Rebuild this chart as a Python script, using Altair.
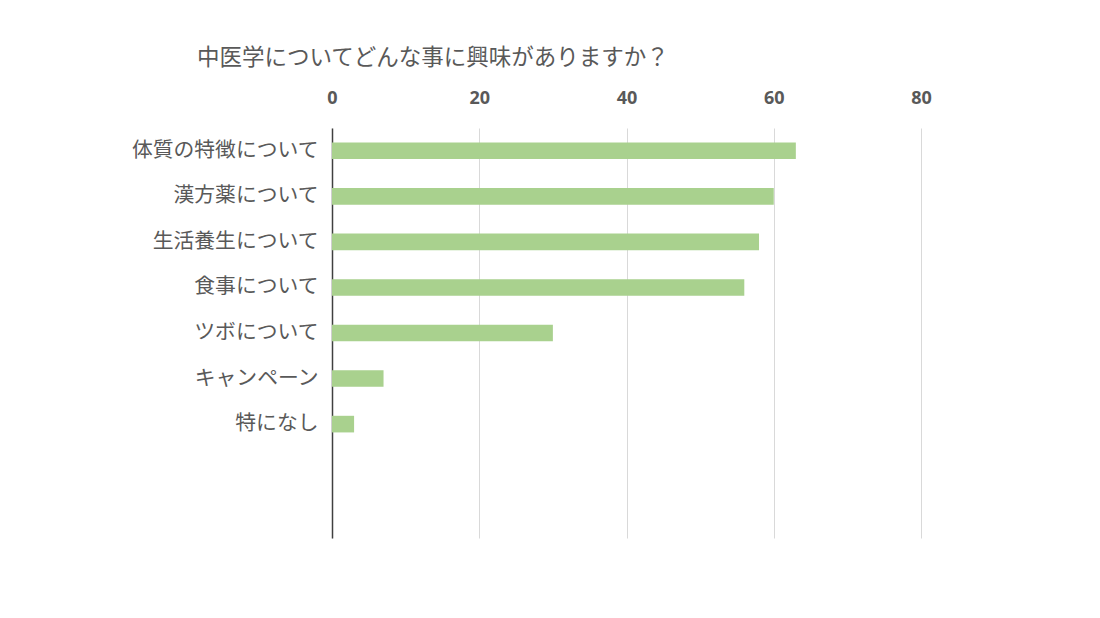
import altair as alt
import pandas as pd

categories = ["体質の特徴について", "漢方薬について", "生活養生について", "食事について",
              "ツボについて", "キャンペーン", "特になし"]
values = [63, 60, 58, 56, 30, 7, 3]
blank_slots = ["_blank1", "_blank2"]
x_ticks = [0, 20, 40, 60, 80]
title_text = "中医学についてどんな事に興味がありますか？"

df = pd.DataFrame({"category": categories, "value": values})

jp = "Noto Sans CJK JP"
grey = "#595959"

chart = alt.Chart(df).mark_bar(color="#A9D18E").encode(
    x=alt.X("value:Q",
            scale=alt.Scale(domain=[0, 80], nice=False),
            axis=alt.Axis(orient="top", values=x_ticks, title=None, ticks=False,
                          domain=False, grid=True, gridColor="#D9D9D9",
                          labelFont="Open Sans", labelFontWeight="bold", labelFontSize=18,
                          labelColor=grey, labelPadding=21, labelFlush=False)),
    y=alt.Y("category:N",
            scale=alt.Scale(domain=categories + blank_slots,
                            paddingInner=0.635, paddingOuter=0.3175),
            axis=alt.Axis(title=None, ticks=False, domain=True, domainColor="#404040",
                          domainWidth=1.5, labelFont=jp, labelFontSize=20.8,
                          labelColor=grey, labelPadding=14, labelLimit=400,
                          labelExpr="indexof(datum.value, '_blank') == 0 ? '' : datum.value")),
).properties(
    width=589,
    height=410,
    title=alt.TitleParams(title_text, anchor="start", frame="group", dx=-135,
                          font=jp, fontSize=22.5, fontWeight="normal", color=grey,
                          offset=20),
    padding={"left": 332, "top": 128, "right": 179, "bottom": 80},
    autosize=alt.AutoSizeParams(type="none"),
).configure(background="white").configure_view(stroke=None)

chart.save("out.html", embed_options={"renderer": "svg", "actions": False})
